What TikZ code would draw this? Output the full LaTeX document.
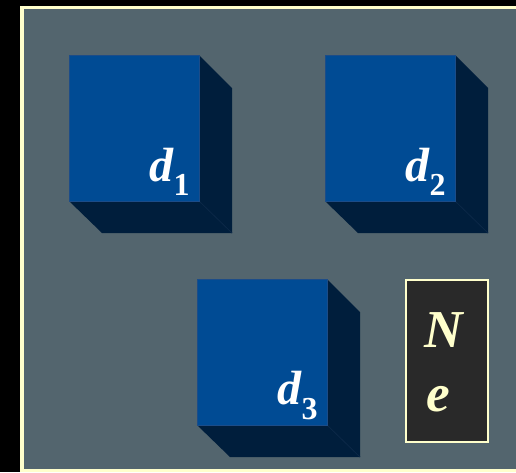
\documentclass[tikz,border=0pt]{standalone}
\usepackage{fontspec}
\setmainfont{Liberation Serif}
\definecolor{panel}{RGB}{83,101,110}
\definecolor{cream}{RGB}{255,255,204}
\definecolor{frontblue}{RGB}{0,75,148}
\definecolor{frontedge}{RGB}{28,76,136}
\definecolor{shadeblue}{RGB}{0,30,60}
\definecolor{ridgeblue}{RGB}{12,40,72}
\definecolor{boxgray}{RGB}{41,41,41}
\newcommand{\subfont}{\fontsize{24}{24}\selectfont}
\begin{document}
\begin{tikzpicture}[x=0.75pt,y=-0.75pt,
  front/.style={draw=frontedge, line width=0.6pt, fill=frontblue,
    minimum width=97.5pt, minimum height=109.5pt, inner sep=0pt},
  tag/.style={text=white, font=\fontsize{36}{36}\selectfont\bfseries\itshape, inner sep=0pt},
  sym/.style={text=cream, font=\fontsize{40}{40}\selectfont\bfseries\itshape, inner sep=0pt},
  cube/.pic={
    % dark side and bottom faces behind the front face
    \fill[shadeblue] (130,0) -- (163,33) -- (163,178) -- (33,178) -- (0,146) -- cycle;
    \draw[ridgeblue, line width=0.6pt] (130,146) -- (163,178);
    \node[front, anchor=north west] (-face) at (0,0) {};
    \node[tag, anchor=south east] (-tag) at (121,141)
      {d\raisebox{-11pt}{\subfont\upshape #1}};
  }]
\clip (0,0) rectangle (516,472);
\fill[black] (0,0) rectangle (516,472);
\draw[cream, line width=2.6pt, fill=panel] (22,7.5) rectangle (545,470.5);

\pic (c1) at (69,55) {cube={1}};
\pic (c2) at (325,55) {cube={2}};
\pic (c3) at (197,279) {cube={3}};

\node[draw=cream, line width=1.5pt, fill=boxgray, anchor=north west,
  minimum width=61.5pt, minimum height=121.5pt, inner sep=0pt] (ne) at (405,279) {};
\node[sym, anchor=base west] (N) at (424,347) {N};
\node[sym, anchor=base west] (e) at (426,411) {e};
\end{tikzpicture}
\end{document}
